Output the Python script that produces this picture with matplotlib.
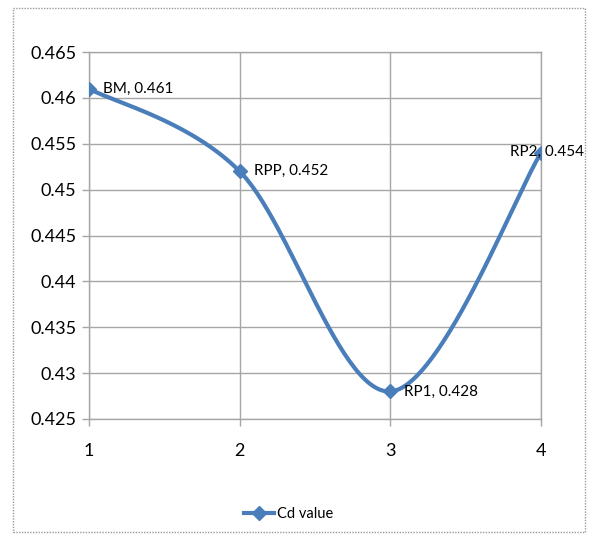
import numpy as np
import matplotlib.pyplot as plt
from matplotlib.patches import Rectangle

# data
x_vals = [1, 2, 3, 4]
cd_vals = [0.461, 0.452, 0.428, 0.454]
point_names = ["BM", "RPP", "RP1", "RP2"]
y_ticks = [0.425, 0.43, 0.435, 0.44, 0.445, 0.45, 0.455, 0.46, 0.465]
y_tick_labels = ["0.425", "0.43", "0.435", "0.44", "0.445", "0.45", "0.455", "0.46", "0.465"]

plt.rcParams["font.family"] = ["Lato", "DejaVu Sans"]


def excel_smooth(xs, ys, n=60):
    # bezier smoothing like excel's "smoothed line"
    xs = np.asarray(xs, float)
    ys = np.asarray(ys, float)
    pts = np.column_stack([xs, ys])
    out = []
    for i in range(len(pts) - 1):
        p0 = pts[i - 1] if i > 0 else pts[i]
        p1 = pts[i]
        p2 = pts[i + 1]
        p3 = pts[i + 2] if i + 2 < len(pts) else pts[i + 1]
        c1 = p1 + (p2 - p0) / 6.0
        c2 = p2 - (p3 - p1) / 6.0
        t = np.linspace(0, 1, n)[:, None]
        seg = ((1 - t) ** 3) * p1 + 3 * ((1 - t) ** 2) * t * c1 + 3 * (1 - t) * t ** 2 * c2 + t ** 3 * p2
        out.append(seg if i == 0 else seg[1:])
    seg = np.vstack(out)
    return seg[:, 0], seg[:, 1]


fig = plt.figure(figsize=(5.89, 5.38), dpi=100)
ax = fig.add_axes([0.1511, 0.2212, 0.7674, 0.6821])

line_color = "#4a7ebb"
grid_color = "#a6a6a6"

sx, sy = excel_smooth(x_vals, cd_vals)
ax.plot(sx, sy, color=line_color, lw=3, solid_capstyle="round", zorder=3)
ax.plot(x_vals, cd_vals, ls="none", marker="D", ms=7, color=line_color, zorder=4)

for i, (xv, yv, name) in enumerate(zip(x_vals, cd_vals, point_names)):
    if i == len(x_vals) - 1:
        # excel pushed the last label back inside the chart area
        ax.annotate(f"{name}, {yv:.3f}", (xv, yv), xytext=(31, 1), textcoords="offset points",
                    fontsize=11, ha="right", va="center", color="black", annotation_clip=False, zorder=5)
    else:
        ax.annotate(f"{name}, {yv:.3f}", (xv, yv), xytext=(10, 0), textcoords="offset points",
                    fontsize=11, ha="left", va="center", color="black", annotation_clip=False, zorder=5)

ax.set_xlim(1, 4)
ax.set_ylim(0.425, 0.465)
ax.set_xticks(x_vals)
ax.set_xticklabels([str(v) for v in x_vals])
ax.set_yticks(y_ticks)
ax.set_yticklabels(y_tick_labels)
ax.tick_params(axis="both", labelsize=13, length=5, width=1, color=grid_color, direction="out")
ax.tick_params(axis="x", pad=12)
ax.tick_params(axis="y", pad=4)

ax.grid(True, color=grid_color, lw=1)
ax.set_axisbelow(True)
for s in ax.spines.values():
    s.set_color(grid_color)
    s.set_linewidth(1)

# legend entry below the plot
leg_line = plt.Line2D([], [], color=line_color, lw=3, marker="D", ms=7)
fig.legend([leg_line], ["Cd value"], loc="center", bbox_to_anchor=(0.49, 0.045),
           frameon=False, fontsize=10.5, handlelength=2.0, handletextpad=0.2)

# outer chart border
fig.patches.append(Rectangle((13 / 589, 6 / 538), 572 / 589, 524 / 538, transform=fig.transFigure,
                             fill=False, edgecolor="#9a9a9a", lw=1, ls=(0, (1, 1))))

fig.savefig("out.png", dpi=100)
